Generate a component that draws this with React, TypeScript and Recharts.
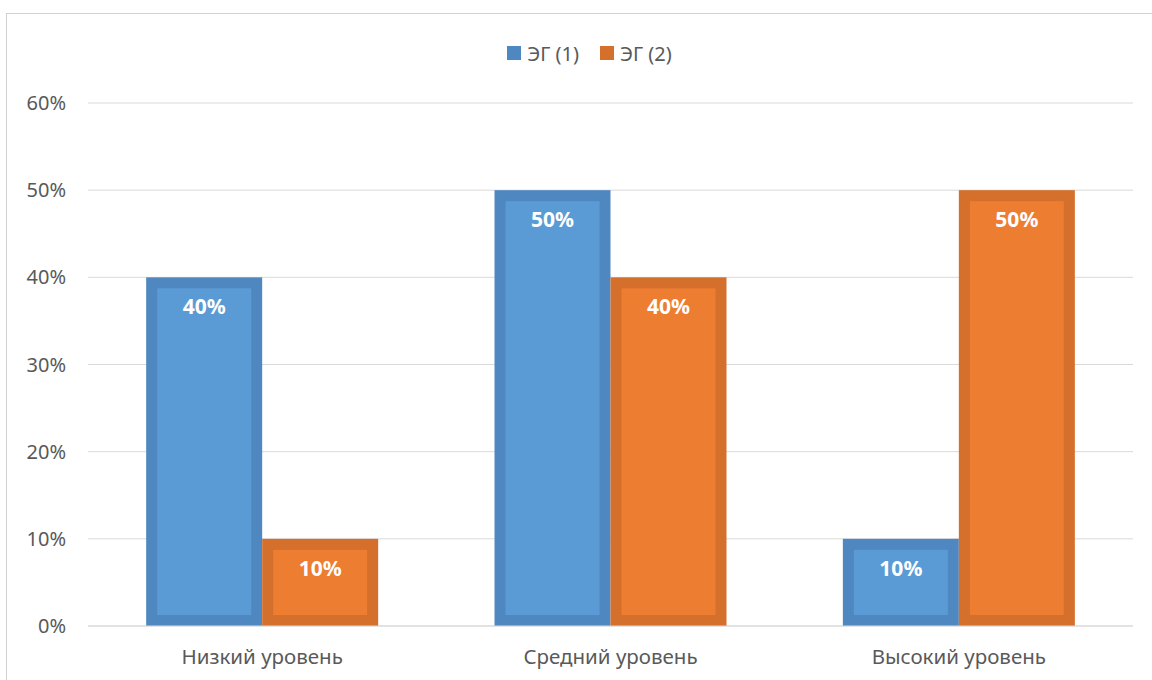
import { BarChart, Bar, XAxis, YAxis, CartesianGrid, Legend, LabelList } from 'recharts';

const categories = ['Низкий уровень', 'Средний уровень', 'Высокий уровень'];
const eg1 = [40, 50, 10];
const eg2 = [10, 40, 50];
const yTicks = [0, 10, 20, 30, 40, 50, 60];

const seriesNames = ['ЭГ (1)', 'ЭГ (2)'];
const colors = [
  { outer: '#4f88c0', inner: '#5b9bd5' },
  { outer: '#d46f2c', inner: '#ed7d31' },
];

const data = categories.map((name, i) => ({ name, eg1: eg1[i], eg2: eg2[i] }));

const FONT = '"Noto Sans", "Open Sans", sans-serif';

// outer darker frame + lighter inner fill, like the Office bar style
const makeShape = (idx: number) => (props: any) => {
  const { x, y, width, height } = props;
  const inset = 11;
  return (
    <g>
      <rect x={x} y={y} width={width} height={height} fill={colors[idx].outer} />
      <rect
        x={x + inset}
        y={y + inset}
        width={Math.max(0, width - inset * 2)}
        height={Math.max(0, height - inset * 2)}
        fill={colors[idx].inner}
      />
    </g>
  );
};

const BarLabel = (props: any) => {
  const { x, y, width, value } = props;
  return (
    <text
      x={x + width / 2}
      y={y + 29}
      textAnchor="middle"
      dominantBaseline="central"
      fill="#ffffff"
      fontWeight="bold"
      fontSize={21}
      fontFamily={FONT}
    >
      {value}%
    </text>
  );
};

const LegendContent = () => (
  <div style={{ height: 67, display: 'flex', justifyContent: 'center', alignItems: 'flex-start', paddingLeft: 46 }}>
    {seriesNames.map((n, i) => (
      <div key={n} style={{ display: 'flex', alignItems: 'center', height: 34, marginRight: i === 0 ? 21 : 0 }}>
        <div style={{ width: 14, height: 14, background: colors[i].outer, marginRight: 6 }} />
        <span style={{ fontFamily: FONT, fontSize: 20, color: '#595959' }}>{n}</span>
      </div>
    ))}
  </div>
);

export default function App() {
  return (
    <div style={{ position: 'absolute', left: 0, top: 0, width: 1152, height: 680, overflow: 'hidden', background: '#fff' }}>
      {/* chart frame: top and left edges only, it runs off the picture */}
      <div style={{ position: 'absolute', left: 6, top: 13, width: 1146, height: 1, background: '#d0d0d0' }} />
      <div style={{ position: 'absolute', left: 6, top: 13, width: 1, height: 667, background: '#d0d0d0' }} />
      <div style={{ position: 'absolute', left: 0, top: 0 }}>
        <BarChart
          width={1152}
          height={680}
          data={data}
          margin={{ top: 36, right: 19, left: 0, bottom: 0 }}
          barCategoryGap="16.7%"
          barGap={0}
        >
          <CartesianGrid vertical={false} stroke="#d9d9d9" />
          <XAxis
            dataKey="name"
            height={54}
            axisLine={{ stroke: '#d9d9d9' }}
            tickLine={false}
            tickSize={0}
            tickMargin={23}
            tick={{ fill: '#595959', fontSize: 20.5, fontFamily: FONT }}
          />
          <YAxis
            width={88}
            domain={[0, 60]}
            ticks={yTicks}
            axisLine={false}
            tickLine={false}
            tickSize={0}
            tickMargin={22}
            tickFormatter={(v) => `${v}%`}
            tick={{ fill: '#595959', fontSize: 20, fontFamily: FONT }}
          />
          <Legend verticalAlign="top" align="center" content={<LegendContent />} />
          <Bar dataKey="eg1" name={seriesNames[0]} fill={colors[0].inner} shape={makeShape(0)} isAnimationActive={false}>
            <LabelList dataKey="eg1" content={<BarLabel />} />
          </Bar>
          <Bar dataKey="eg2" name={seriesNames[1]} fill={colors[1].inner} shape={makeShape(1)} isAnimationActive={false}>
            <LabelList dataKey="eg2" content={<BarLabel />} />
          </Bar>
        </BarChart>
      </div>
    </div>
  );
}
